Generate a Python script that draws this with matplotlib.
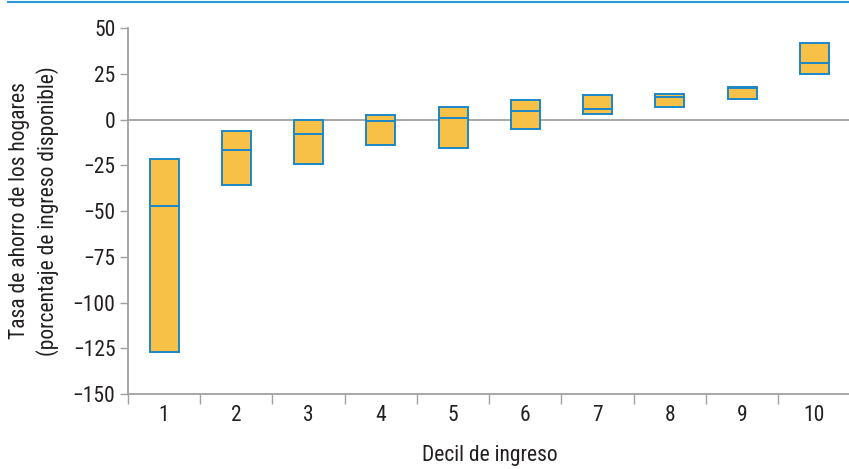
import numpy as np
import matplotlib.pyplot as plt
from matplotlib.lines import Line2D

plt.rcParams['font.family'] = ['Roboto Condensed', 'Liberation Sans Narrow', 'Liberation Sans', 'DejaVu Sans']

deciles = ['1', '2', '3', '4', '5', '6', '7', '8', '9', '10']
p_low = [-126.9, -36.0, -24.1, -14.1, -15.4, -5.4, 2.8, 6.8, 11.4, 24.9]
p_med = [-47.3, -16.8, -7.7, -0.8, 0.6, 4.6, 5.7, 12.1, 17.0, 30.9]
p_high = [-21.6, -6.1, 0.0, 2.5, 6.7, 10.7, 13.2, 14.1, 17.9, 42.0]

fill = '#f7c046'
edge = '#1b87c9'
grey = '#a0a0a0'
txt = '#231f20'
fs = 15.5

fig = plt.figure(figsize=(8.49, 4.69), dpi=100)
ax = fig.add_axes([128/849, 1-394/469, 1-128/849, (394-28)/469])

x = np.arange(1, len(deciles) + 1)
lo = np.array(p_low)
hi = np.array(p_high)
ax.bar(x, hi - lo, bottom=lo, width=0.4, color=fill, edgecolor=edge, linewidth=1.4, zorder=3)
ax.hlines(p_med, x - 0.2, x + 0.2, colors=edge, linewidth=1.4, zorder=4)
ax.axhline(0, color=grey, linewidth=1.3, zorder=2)

ax.set_ylim(-150, 50)
ax.set_xlim(0.5, 10.48)
ax.set_yticks(np.arange(-150, 51, 25))
ax.set_yticklabels([str(v).replace('-', '\u2212') for v in range(-150, 51, 25)])
ax.set_xticks(x)
ax.set_xticklabels(deciles)
ax.set_xticks(np.arange(0.5, 10.5, 1), minor=True)
ax.tick_params(axis='x', which='major', length=0, pad=8, labelsize=fs, labelcolor=txt)
ax.tick_params(axis='x', which='minor', length=7, color=grey, width=1)
ax.tick_params(axis='y', length=6, color=grey, width=1, labelsize=fs, labelcolor=txt, pad=3)

for s in ['top', 'right']:
    ax.spines[s].set_visible(False)
for s in ['left', 'bottom']:
    ax.spines[s].set_color(grey)
    ax.spines[s].set_linewidth(1.3)

ax.set_ylabel('Tasa de ahorro de los hogares\n(porcentaje de ingreso disponible)',
              fontsize=fs, color=txt, labelpad=10, linespacing=1.3)
fig.text(490/849, 1-455/469, 'Decil de ingreso', fontsize=fs, color=txt, ha='center', va='center')

fig.add_artist(Line2D([8/849, 1], [1-2.5/469, 1-2.5/469], color='#2a97d8', linewidth=1.5))

fig.savefig('out.png', dpi=100)
